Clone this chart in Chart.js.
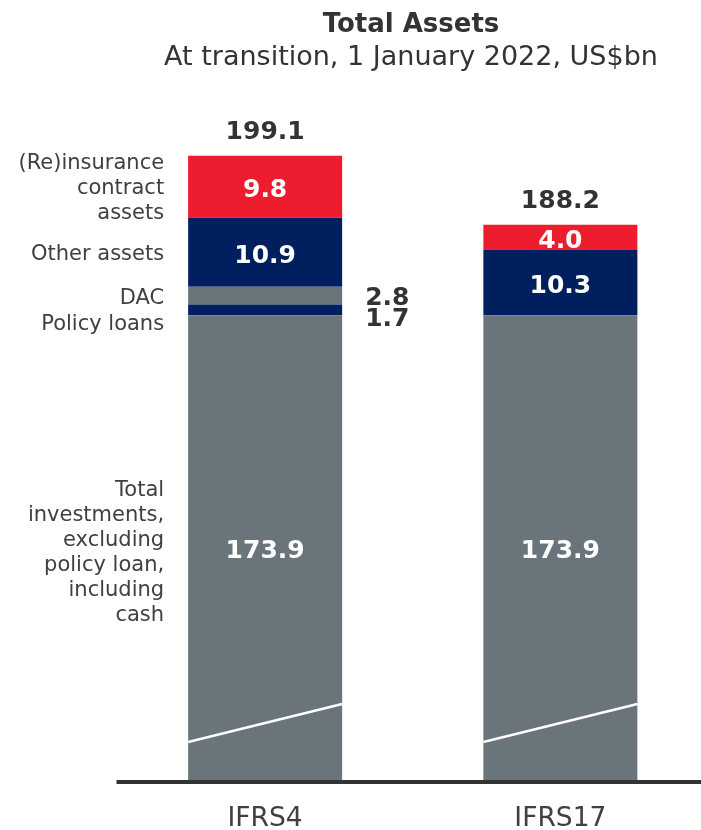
<!DOCTYPE html>
<html>
<head>
<meta charset="utf-8">
<script src="https://cdn.jsdelivr.net/npm/chart.js@4.4.1/dist/chart.umd.min.js"></script>
<style>
html,body{margin:0;padding:0;overflow:hidden;background:#fff;width:701px;height:830px;}
#wrap{position:relative;width:701px;height:830px;overflow:hidden;}
canvas{position:absolute;left:0;top:0;}
.t{position:absolute;left:0;width:822px;text-align:center;font-family:"DejaVu Sans";color:#333;line-height:1;white-space:nowrap;}
</style>
</head>
<body>
<div id="wrap">
<canvas id="c" width="708" height="830"></canvas>
<div class="t" style="top:10px;font-size:26px;font-weight:bold;">Total Assets</div>
<div class="t" style="top:42px;font-size:27px;">At transition, 1 January 2022, US$bn</div>
</div>
<script>
// ---- data ----
const categories = ['IFRS4', 'IFRS17'];
const investments = [173.9, 173.9];
const policyLoans = [1.7, null];
const dac = [2.8, null];
const otherAssets = [10.9, 10.3];
const reinsurance = [9.8, 4.0];
const totals = [199.1, 188.2];
const seriesLabels = [
  ['Total', 'investments,', 'excluding', 'policy loan,', 'including', 'cash'],
  ['Policy loans'],
  ['DAC'],
  ['Other assets'],
  ['(Re)insurance', 'contract', 'assets']
];

// ---- styles ----
const GRAY = '#6a757b';
const NAVY = '#001f5e';
const RED = '#ed1c2e';
const FONT = '"DejaVu Sans"';

// label placement per dataset: inside bar, or outside to the right
const placement = ['inside', 'outside', 'outside', 'inside', 'inside'];
const leftOffset = [3, 12.6, 0.5, 0, 0];
const outOffset = [0, 7, 0, 0, 0];

const labelsPlugin = {
  id: 'segLabels',
  afterDatasetsDraw(chart) {
    const ctx = chart.ctx;
    const ys = chart.scales.y;
    const area = chart.chartArea;
    ctx.save();

    // broken-axis marks on the base segment
    const baseMeta = chart.getDatasetMeta(0);
    baseMeta.data.forEach(el => {
      const b = el.getProps(['x', 'width'], true);
      ctx.beginPath();
      ctx.moveTo(b.x - b.width / 2, ys.getPixelForValue(106.5));
      ctx.lineTo(b.x + b.width / 2, ys.getPixelForValue(112.5));
      ctx.strokeStyle = '#ffffff';
      ctx.lineWidth = 2.5;
      ctx.stroke();
    });

    // axis line
    ctx.beginPath();
    ctx.moveTo(area.left - 1, area.bottom + 2);
    ctx.lineTo(chart.width, area.bottom + 2);
    ctx.strokeStyle = '#333333';
    ctx.lineWidth = 4;
    ctx.stroke();

    const boldCap = 0.729 * 25;
    const regCap = 0.729 * 21;

    chart.data.datasets.forEach((ds, i) => {
      const meta = chart.getDatasetMeta(i);
      meta.data.forEach((el, j) => {
        const v = ds.data[j];
        if (v === null || v === undefined) return;
        const b = el.getProps(['x', 'y', 'base', 'width'], true);
        const bottom = Math.min(b.base, area.bottom);
        const cy = (b.y + bottom) / 2;
        ctx.font = 'bold 25px ' + FONT;
        ctx.textBaseline = 'alphabetic';
        if (placement[i] === 'inside') {
          ctx.fillStyle = '#ffffff';
          ctx.textAlign = 'center';
          ctx.fillText(v.toFixed(1), b.x, cy + boldCap / 2 + 1.5);
        } else {
          ctx.fillStyle = '#333333';
          ctx.textAlign = 'left';
          ctx.fillText(v.toFixed(1), b.x + b.width / 2 + 23, cy + boldCap / 2 + outOffset[i]);
        }
        // series names to the left of the first bar
        if (j === 0) {
          const lines = seriesLabels[i];
          const lh = 25;
          const c = cy + leftOffset[i];
          ctx.font = '21px ' + FONT;
          ctx.fillStyle = '#404040';
          ctx.textAlign = 'right';
          const first = c - (lines.length - 1) * lh / 2 + regCap / 2;
          lines.forEach((ln, k) => {
            ctx.fillText(ln, b.x - b.width / 2 - 24, first + k * lh);
          });
        }
      });
    });

    // totals above bars
    ctx.font = 'bold 25px ' + FONT;
    ctx.fillStyle = '#333333';
    ctx.textAlign = 'center';
    ctx.textBaseline = 'alphabetic';
    baseMeta.data.forEach((el, j) => {
      const b = el.getProps(['x'], true);
      ctx.fillText(totals[j].toFixed(1), b.x, ys.getPixelForValue(totals[j]) - 16.7);
    });
    ctx.restore();
  }
};

new Chart(document.getElementById('c'), {
  type: 'bar',
  data: {
    labels: categories,
    datasets: [
      { label: 'Total investments', data: investments, backgroundColor: GRAY },
      { label: 'Policy loans', data: policyLoans, backgroundColor: NAVY },
      { label: 'DAC', data: dac, backgroundColor: GRAY },
      { label: 'Other assets', data: otherAssets, backgroundColor: NAVY },
      { label: '(Re)insurance contract assets', data: reinsurance, backgroundColor: RED }
    ]
  },
  options: {
    responsive: false,
    animation: false,
    layout: { padding: { left: 117.5, right: 0, top: 100, bottom: 0 } },
    datasets: { bar: { barPercentage: 0.5216, categoryPercentage: 1, borderWidth: 0 } },
    plugins: { legend: { display: false }, tooltip: { enabled: false }, title: { display: false } },
    scales: {
      x: {
        stacked: true,
        grid: { display: false, drawTicks: false },
        border: { display: false },
        ticks: { font: { family: 'DejaVu Sans', size: 26.5 }, color: '#404040', padding: 23 },
        afterFit(s) { s.height = 50; }
      },
      y: { stacked: true, display: false, min: 100.5, max: 207.9 }
    }
  },
  plugins: [labelsPlugin]
});
</script>
</body>
</html>
